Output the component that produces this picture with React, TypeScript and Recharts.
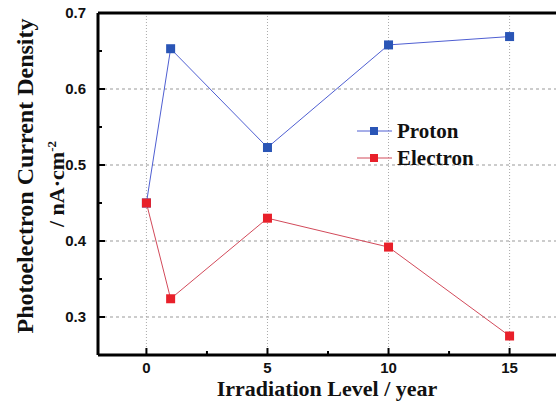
import {
  LineChart,
  Line,
  XAxis,
  YAxis,
  CartesianGrid,
  ReferenceLine,
  Legend,
} from 'recharts';

// irradiation level (years) and measured current densities
const years = [0, 1, 5, 10, 15];
const protonValues = [0.45, 0.653, 0.523, 0.658, 0.669];
const electronValues = [0.45, 0.324, 0.43, 0.392, 0.275];

const xTicks = [0, 2.5, 5, 7.5, 10, 12.5, 15];
const xLabelled = [0, 5, 10, 15];
const yTicks = [0.3, 0.35, 0.4, 0.45, 0.5, 0.55, 0.6, 0.65, 0.7];
const yLabelled = [0.3, 0.4, 0.5, 0.6, 0.7];

const data = years.map((year, i) => ({
  year,
  proton: protonValues[i],
  electron: electronValues[i],
}));

const series = [
  { key: 'proton', name: 'Proton', line: '#4f5fd2', marker: '#2a55b6' },
  { key: 'electron', name: 'Electron', line: '#d24a5a', marker: '#e8202a' },
];

const SERIF = '"Liberation Serif", "Times New Roman", serif';
const SANS = '"Liberation Sans", Arial, sans-serif';

const isMajor = (v: number, list: number[]) => list.some((m) => Math.abs(m - v) < 1e-6);

const XTick = (props: any) => {
  const { x, y, payload } = props;
  const major = isMajor(payload.value, xLabelled);
  return (
    <g>
      <line x1={x} y1={y} x2={x} y2={y - (major ? 7 : 4)} stroke="#000" strokeWidth={2} />
      {major && (
        <text x={x} y={y + 18} textAnchor="middle" fontFamily={SANS} fontWeight="bold" fontSize={15} fill="#111">
          {payload.value}
        </text>
      )}
    </g>
  );
};

const YTick = (props: any) => {
  const { x, y, payload } = props;
  const major = isMajor(payload.value, yLabelled);
  return (
    <g>
      <line x1={x} y1={y} x2={x + (major ? 7 : 4)} y2={y} stroke="#000" strokeWidth={2} />
      {major && (
        <text x={x - 12} y={y + 5} textAnchor="end" fontFamily={SANS} fontWeight="bold" fontSize={15} fill="#111">
          {payload.value.toFixed(1)}
        </text>
      )}
    </g>
  );
};

const squareDot = (color: string) => (props: any) => {
  const { cx, cy, index } = props;
  return <rect key={index} x={cx - 4.5} y={cy - 4.5} width={9} height={9} fill={color} />;
};

const LegendBox = () => (
  <div>
    {series.map((s) => (
      <div key={s.key} style={{ display: 'flex', alignItems: 'center', height: 27 }}>
        <svg width={42} height={12}>
          <line x1={2} y1={6} x2={37} y2={6} stroke={s.line} strokeWidth={1} />
          <rect x={15} y={2} width={8} height={8} fill={s.marker} />
        </svg>
        <span style={{ fontFamily: SERIF, fontWeight: 'bold', fontSize: 21, lineHeight: '22px', color: '#111' }}>
          {s.name}
        </span>
      </div>
    ))}
  </div>
);

export default function App() {
  return (
    <div style={{ position: 'absolute', left: 0, top: 0, width: 556, height: 401, overflow: 'hidden', background: '#fff' }}>
      <LineChart width={566} height={401} data={data} margin={{ top: 13, right: 8, bottom: 16, left: 58 }}>
        <CartesianGrid vertical={false} horizontalValues={yLabelled} stroke="#999" strokeDasharray="3 3" />
        <CartesianGrid horizontal={false} verticalValues={xLabelled} stroke="#aaa" strokeDasharray="1 2" />
        <XAxis
          type="number"
          dataKey="year"
          domain={[-2, 17]}
          ticks={xTicks}
          interval={0}
          height={30}
          tickSize={0}
          tickMargin={0}
          tickLine={false}
          tick={<XTick />}
          axisLine={{ stroke: '#000', strokeWidth: 3 }}
          allowDataOverflow
        />
        <YAxis
          type="number"
          domain={[0.25, 0.7]}
          ticks={yTicks}
          interval={0}
          width={40}
          tickSize={0}
          tickMargin={0}
          tickLine={false}
          tick={<YTick />}
          axisLine={{ stroke: '#000', strokeWidth: 3 }}
          allowDataOverflow
        />
        <ReferenceLine y={0.7} stroke="#000" strokeWidth={3} />
        <ReferenceLine x={17} stroke="#000" strokeWidth={3} />
        <Legend
          layout="vertical"
          align="center"
          verticalAlign="middle"
          content={<LegendBox />}
          wrapperStyle={{ left: 355, top: 117, width: 'auto' }}
        />
        {series.map((s) => (
          <Line
            key={s.key}
            type="linear"
            dataKey={s.key}
            name={s.name}
            stroke={s.line}
            strokeWidth={1}
            dot={squareDot(s.marker)}
            activeDot={false}
            isAnimationActive={false}
          />
        ))}
      </LineChart>
      <div
        style={{
          position: 'absolute',
          left: 25,
          top: 176,
          transform: 'translate(-50%, -50%) rotate(-90deg)',
          whiteSpace: 'nowrap',
          fontFamily: SERIF,
          fontWeight: 'bold',
          fontSize: 24,
          lineHeight: '24px',
          color: '#111',
        }}
      >
        Photoelectron Current Density
      </div>
      <div
        style={{
          position: 'absolute',
          left: 57,
          top: 184,
          transform: 'translate(-50%, -50%) rotate(-90deg)',
          whiteSpace: 'nowrap',
          fontFamily: SERIF,
          fontWeight: 'bold',
          fontSize: 22,
          lineHeight: '22px',
          color: '#111',
        }}
      >
        / nA·cm<sup style={{ fontSize: 13, lineHeight: 0 }}>-2</sup>
      </div>
      <div
        style={{
          position: 'absolute',
          left: 327,
          top: 389,
          transform: 'translate(-50%, -50%)',
          whiteSpace: 'nowrap',
          fontFamily: SERIF,
          fontWeight: 'bold',
          fontSize: 22,
          lineHeight: '20px',
          color: '#111',
        }}
      >
        Irradiation Level / year
      </div>
    </div>
  );
}
